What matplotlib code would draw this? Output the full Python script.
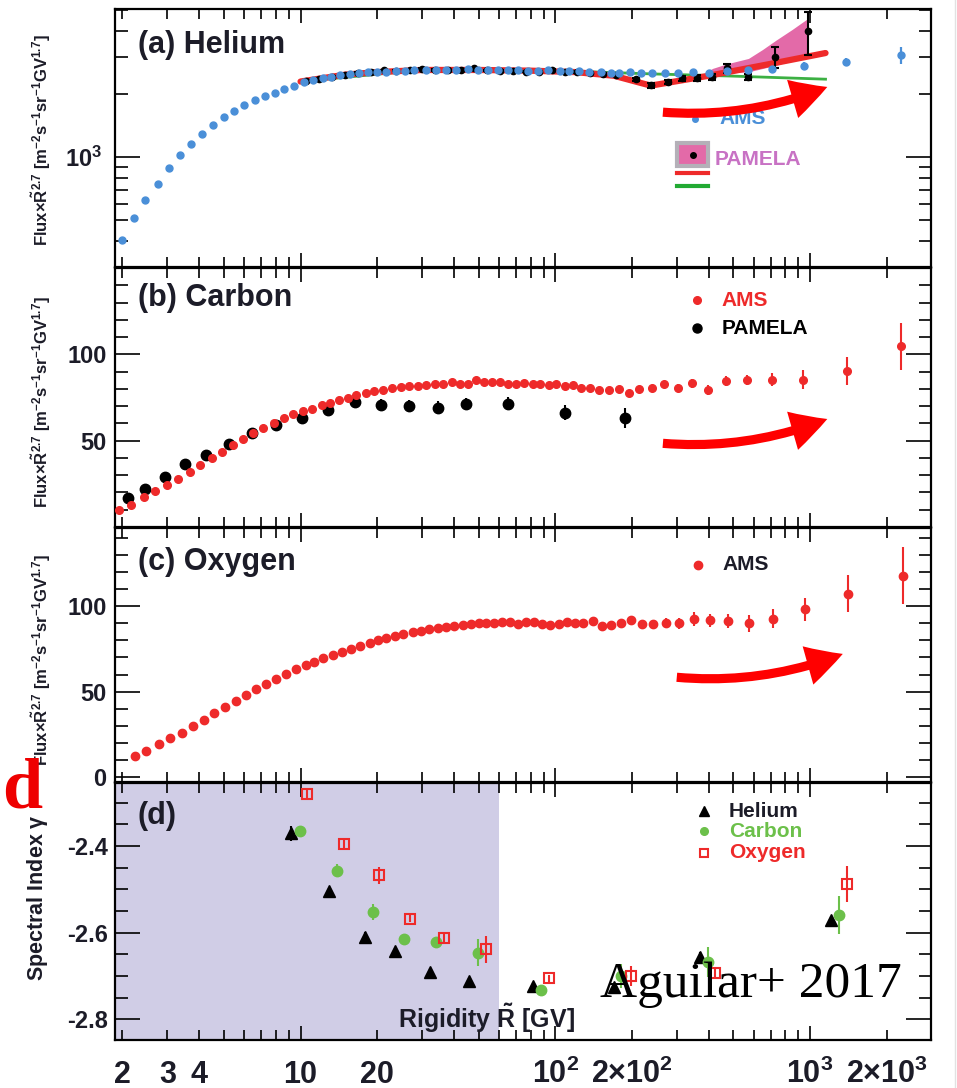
import matplotlib
matplotlib.use("Agg")
import matplotlib.pyplot as plt
import matplotlib.transforms as mtransforms
from matplotlib.patches import FancyArrowPatch, Rectangle
from matplotlib.ticker import FixedLocator, NullFormatter
from matplotlib.lines import Line2D

plt.rcParams.update({
    "font.family": "Liberation Sans",
    "font.weight": "bold",
    "mathtext.fontset": "custom",
    "mathtext.rm": "Liberation Sans:bold",
    "mathtext.it": "Liberation Sans:bold",
    "mathtext.bf": "Liberation Sans:bold",
    "axes.unicode_minus": False,
})

# ---------------- data ----------------
# (a) helium, AMS
he_ams_R = [1.99, 2.21, 2.46, 2.75, 3.05, 3.37, 3.72, 4.09, 4.55, 4.99, 5.50, 6.02, 6.62,
            7.25, 7.91, 8.65, 9.4, 10.3, 11.2, 12.2, 13.2, 14.3, 15.6, 16.9, 18.4, 19.9,
            21.7, 23.6, 25.6, 28.0, 31.1, 34.0, 37.2, 40.8, 45.3, 49.6, 54.3, 59.4, 65.0,
            71.2, 77.9, 85.3, 93.3, 104, 113, 124, 136, 151, 165, 178, 196, 217, 240, 269,
            304, 346, 402, 471, 571, 710, 944, 1387, 2281]
he_ams_F = [405, 513, 622, 747, 883, 1022, 1157, 1291, 1425, 1546, 1661, 1762, 1863,
            1945, 2024, 2107, 2180, 2270, 2327, 2371, 2405, 2449, 2484, 2512, 2530, 2539,
            2548, 2569, 2578, 2608, 2597, 2597, 2597, 2597, 2618, 2597, 2597, 2587, 2587,
            2587, 2569, 2559, 2597, 2569, 2569, 2559, 2539, 2530, 2520, 2520, 2530, 2505,
            2520, 2520, 2520, 2530, 2520, 2569, 2608, 2627, 2722, 2844, 3061]
he_ams_err = [0] * 60 + [100, 135, 280]

# (a) helium, PAMELA
he_pam_R = [10.5, 11.8, 13.3, 14.9, 16.8, 18.9, 21.2, 23.8, 26.8, 30.1, 33.8, 38.0, 42.7,
            48.0, 54.0, 60.7, 68.2, 76.7, 86.2, 96.9, 109, 122, 137, 154, 173, 207, 237,
            276, 313, 359, 414, 471, 571, 729, 982]
he_pam_F = [2300, 2360, 2420, 2470, 2510, 2540, 2590, 2580, 2600, 2640, 2600, 2590, 2610,
            2650, 2590, 2580, 2570, 2550, 2540, 2600, 2550, 2540, 2520, 2500, 2450, 2350,
            2193, 2284, 2371, 2378, 2397, 2644, 2415, 3006, 3966]
he_pam_lo = [20] * 25 + [40, 50, 55, 70, 75, 80, 140, 80, 350, 906]
he_pam_hi = [20] * 25 + [40, 50, 55, 70, 75, 80, 140, 80, 350, 954]

# (a) PAMELA fits
fit_red_R = [10, 15, 20, 30, 50, 80, 120, 170, 237, 400, 700, 1150]
fit_red_F = [2290, 2470, 2540, 2600, 2600, 2580, 2540, 2440, 2190, 2440, 2780, 3130]
fit_green_R = [10, 30, 100, 240, 500, 1150]
fit_green_F = [2290, 2600, 2580, 2490, 2430, 2350]
band_R = [380, 414, 471, 573, 650, 735, 850, 982]
band_lo = [2440, 2484, 2510, 2548, 2640, 2740, 2880, 3060]
band_hi = [2480, 2644, 2780, 2950, 3250, 3605, 4050, 4580]

# (b) carbon
c_ams_R = [1.94, 2.17, 2.42, 2.68, 2.99, 3.31, 3.68, 4.04, 4.48, 4.93, 5.43, 5.95, 6.51,
           7.12, 7.84, 8.58, 9.3, 10.2, 11.1, 12.1, 13.1, 14.1, 15.3, 16.5, 18.1, 19.5,
           21.0, 22.8, 24.7, 26.7, 28.8, 31.1, 33.7, 36.4, 39.2, 42.3, 45.6, 48.9, 52.7,
           56.2, 60.7, 65.5, 70.2, 75.5, 81.5, 87.1, 94.1, 101, 109, 117, 126, 137, 149,
           162, 178, 195, 213, 239, 268, 303, 344, 397, 467, 568, 711, 939, 1396, 2280]
c_ams_F = [9.8, 13.0, 17.2, 20.9, 24.5, 28.0, 31.8, 35.8, 39.8, 43.7, 47.7, 51.0, 54.6,
           57.5, 60.5, 63.2, 65.3, 67.2, 68.6, 70.7, 72.0, 73.4, 74.9, 76.3, 77.4, 78.6,
           79.5, 80.5, 81.2, 81.4, 81.8, 82.2, 82.8, 82.9, 83.7, 82.9, 82.9, 84.9, 84.1,
           83.9, 83.7, 82.8, 82.9, 83.3, 82.6, 82.6, 82.2, 82.6, 81.6, 82.2, 80.6, 80.6,
           79.1, 79.1, 79.7, 77.8, 79.7, 80.6, 82.6, 80.6, 83.3, 79.3, 84.5, 85.1, 85.4,
           85.2, 90.2, 104.8]
c_ams_err = [0.6] * 16 + [0.8] * 32 + [1.3] * 9 + [1.5, 1.8, 2.0, 2.7, 2.9, 2.9, 3.0,
                                                   3.8, 5.5, 8.2, 13.6]
c_pam_R = [2.10, 2.46, 2.93, 3.53, 4.27, 5.24, 6.44, 8.03, 10.1, 12.8, 16.3, 20.7, 26.7,
           34.5, 44.7, 65.0, 109, 188]
c_pam_F = [16.9, 22.2, 28.9, 36.6, 41.8, 48.3, 54.4, 59.2, 62.9, 68.0, 72.4, 70.7, 70.1,
           69.1, 71.4, 71.4, 66.3, 63.0]
c_pam_err = [1.0, 1.0, 1.0, 1.2, 1.2, 1.5, 1.5, 1.8, 2.0, 2.2, 3.0, 3.2, 3.2, 3.6, 3.6,
             3.8, 4.2, 5.8]

# (c) oxygen
o_ams_R = [2.23, 2.48, 2.78, 3.08, 3.41, 3.78, 4.17, 4.59, 5.05, 5.56, 6.09, 6.70, 7.33,
           7.98, 8.73, 9.56, 10.5, 11.3, 12.3, 13.4, 14.6, 15.8, 17.1, 18.7, 20.1, 21.7,
           23.4, 25.2, 27.6, 29.7, 32.0, 34.5, 37.2, 40.2, 43.3, 46.7, 50.4, 53.5, 57.6,
           61.8, 66.4, 71.2, 76.7, 82.2, 88.4, 95.3, 103, 111, 120, 129, 140, 152, 165,
           181, 199, 219, 242, 273, 307, 351, 405, 476, 577, 716, 953, 1413, 2311]
o_ams_F = [12.1, 15.4, 19.1, 22.5, 26.0, 30.1, 33.5, 37.4, 41.0, 44.7, 48.2, 51.6, 54.3,
           57.4, 60.5, 63.0, 65.3, 67.4, 69.8, 71.7, 73.2, 75.1, 76.7, 78.6, 80.2, 81.5,
           82.8, 83.8, 84.8, 85.7, 86.7, 87.5, 87.9, 88.3, 89.0, 89.4, 90.2, 90.2, 90.0,
           90.6, 90.6, 89.6, 90.6, 90.9, 89.6, 89.2, 89.6, 90.6, 90.2, 90.0, 91.5, 88.6,
           89.0, 90.0, 91.9, 89.4, 89.4, 90.0, 90.0, 92.5, 91.7, 91.2, 90.0, 92.7, 98.3,
           107.5, 117.9]
o_ams_err = [1.0] * 46 + [1.8] * 9 + [2.5, 2.5, 3.0, 3.3, 3.9, 3.9, 4.2, 4.8, 5.6, 6.7,
                                      10.6, 16.7]

# (d) spectral indices
gam_he_R = [9.2, 12.9, 17.9, 23.5, 32.1, 46.0, 81.5, 170, 369, 1205]
gam_he = [-2.371, -2.505, -2.611, -2.643, -2.690, -2.712, -2.723, -2.725, -2.656, -2.572]
gam_he_err = [0.018, 0.008, 0.012, 0.008, 0.008, 0.008, 0.008, 0.008, 0.012, 0.01]
gam_c_R = [9.97, 13.9, 19.2, 25.4, 34.0, 49.8, 88.1, 181, 399, 1303]
gam_c = [-2.365, -2.457, -2.552, -2.615, -2.621, -2.647, -2.733, -2.700, -2.668, -2.559]
gam_c_err = [0.012, 0.015, 0.019, 0.01, 0.01, 0.031, 0.01, 0.027, 0.034, 0.044]
gam_o_R = [10.6, 14.8, 20.4, 27.0, 36.5, 53.5, 94.2, 198, 424, 1396]
gam_o = [-2.280, -2.395, -2.468, -2.568, -2.613, -2.639, -2.706, -2.700, -2.693, -2.488]
gam_o_err = [0.01, 0.01, 0.019, 0.008, 0.01, 0.031, 0.008, 0.023, 0.01, 0.041]
shade_upto = 60

x_major = [10, 100, 1000]
x_minor = [2, 3, 4, 5, 6, 7, 8, 9, 20, 30, 40, 50, 60, 70, 80, 90,
           200, 300, 400, 500, 600, 700, 800, 900, 2000]
x_lab_vals = [2, 3, 4, 10, 20, 100, 200, 1000, 2000]
x_lab_txt = ['2', '3', '4', '10', '20', r'$10^{2}$', r'$2{\times}10^{2}$',
             r'$10^{3}$', r'$2{\times}10^{3}$']

BLUE = '#4a8fd8'
RED = '#ee2a2a'
GREEN = '#6cc04a'
INK = '#1c1c28'

# ---------------- figure ----------------
fig = plt.figure(figsize=(9.57, 10.88), dpi=100)
L, W = 0.1202, 0.8527
ax_a = fig.add_axes([L, 0.7546, W, 0.2371])
ax_b = fig.add_axes([L, 0.5156, W, 0.2381])
ax_c = fig.add_axes([L, 0.2813, W, 0.2335])
ax_d = fig.add_axes([L, 0.0441, W, 0.2362])


def style(ax, ypad):
    ax.set_xscale('log')
    ax.set_xlim(1.87, 2985)
    ax.xaxis.set_major_locator(FixedLocator(x_major))
    ax.xaxis.set_minor_locator(FixedLocator(x_minor))
    ax.xaxis.set_major_formatter(NullFormatter())
    ax.xaxis.set_minor_formatter(NullFormatter())
    ax.tick_params(which='both', direction='in', top=True, right=True,
                   color='black', width=1.2, labelcolor=INK)
    ax.tick_params(axis='x', which='major', length=10)
    ax.tick_params(axis='x', which='minor', length=7)
    ax.tick_params(axis='y', which='major', length=18, labelsize=17, pad=ypad)
    ax.tick_params(axis='y', which='minor', length=9)
    for s in ax.spines.values():
        s.set_linewidth(1.6)


def arrow(ax, p0, p1):
    ax.add_patch(FancyArrowPatch(p0, p1, transform=ax.transAxes,
                                 arrowstyle='simple,head_length=1.2,head_width=1.3,tail_width=0.3',
                                 connectionstyle='arc3,rad=0.12', mutation_scale=22,
                                 color='#ff0000', lw=0, zorder=10))


def key(ax, x, y, text, tcolor, **mk):
    ax.plot([x], [y], transform=ax.transAxes, linestyle='none', clip_on=False, **mk)
    ax.text(x + 0.03, y, text, transform=ax.transAxes, color=tcolor, fontsize=15,
            va='center', ha='left')


# (a) Helium
style(ax_a, 9)
ax_a.set_yscale('log')
ax_a.set_ylim(300, 5070)
ax_a.yaxis.set_major_locator(FixedLocator([1000]))
ax_a.yaxis.set_minor_locator(FixedLocator([400, 500, 600, 700, 800, 900, 2000, 3000, 4000, 5000]))
ax_a.yaxis.set_major_formatter(plt.FixedFormatter([r'$10^{3}$']))
ax_a.yaxis.set_minor_formatter(NullFormatter())
ax_a.plot(fit_green_R, fit_green_F, color='#3cb043', lw=2, zorder=2)
ax_a.fill_between(band_R, band_lo, band_hi, color='#e36aa8', lw=0, zorder=2.5)
ax_a.plot(fit_red_R, fit_red_F, color=RED, lw=4.5, zorder=3, solid_capstyle='round')
ax_a.errorbar(he_pam_R, he_pam_F, yerr=[he_pam_lo, he_pam_hi], fmt='o', color='black',
              ms=4.5, elinewidth=1.5, capsize=3, capthick=1.5, zorder=4)
ax_a.errorbar(he_ams_R, he_ams_F, yerr=he_ams_err, fmt='o', color=BLUE, ms=5,
              elinewidth=1.6, capsize=0, zorder=5)
ax_a.text(0.028, 0.86, '(a) Helium', transform=ax_a.transAxes, fontsize=22,
          color=INK, va='center')
key(ax_a, 0.711, 0.575, 'AMS', BLUE, marker='o', color=BLUE, ms=4)
ax_a.add_patch(Rectangle((0.689, 0.391), 0.038, 0.09, transform=ax_a.transAxes,
                         facecolor='#e36aa8', edgecolor='#b4b0b8', lw=3, zorder=6))
ax_a.plot([0.708], [0.436], 'o', color='black', ms=4, transform=ax_a.transAxes, zorder=7)
ax_a.text(0.735, 0.415, 'PAMELA', transform=ax_a.transAxes, color='#c872c4',
          fontsize=15, va='center')
ax_a.plot([0.689, 0.727], [0.364, 0.364], color=RED, lw=3, transform=ax_a.transAxes)
ax_a.plot([0.689, 0.727], [0.314, 0.314], color='#22aa33', lw=3, transform=ax_a.transAxes)
arrow(ax_a, (0.668, 0.601), (0.876, 0.702))

# (b) Carbon
style(ax_b, 6)
ax_b.set_ylim(0, 150)
ax_b.set_yticks([50, 100])
ax_b.yaxis.set_minor_locator(FixedLocator([10, 20, 30, 40, 60, 70, 80, 90, 110, 120, 130, 140]))
ax_b.errorbar(c_pam_R, c_pam_F, yerr=c_pam_err, fmt='o', color='black', ms=7.5,
              elinewidth=1.5, capsize=0, zorder=3)
ax_b.errorbar(c_ams_R, c_ams_F, yerr=c_ams_err, fmt='o', color=RED, ms=5.5,
              elinewidth=1.5, capsize=0, zorder=4)
ax_b.text(0.028, 0.884, '(b) Carbon', transform=ax_b.transAxes, fontsize=22,
          color=INK, va='center')
key(ax_b, 0.713, 0.876, 'AMS', RED, marker='o', color=RED, ms=5.5)
key(ax_b, 0.713, 0.768, 'PAMELA', 'black', marker='o', color='black', ms=6.5)
arrow(ax_b, (0.668, 0.324), (0.876, 0.421))

# (c) Oxygen
style(ax_c, 6)
ax_c.set_ylim(-3, 146)
ax_c.set_yticks([0, 50, 100])
ax_c.yaxis.set_minor_locator(FixedLocator([10, 20, 30, 40, 60, 70, 80, 90, 110, 120, 130, 140]))
ax_c.errorbar(o_ams_R, o_ams_F, yerr=o_ams_err, fmt='o', color=RED, ms=6,
              elinewidth=1.5, capsize=0, zorder=4)
ax_c.text(0.028, 0.866, '(c) Oxygen', transform=ax_c.transAxes, fontsize=22,
          color=INK, va='center')
key(ax_c, 0.714, 0.854, 'AMS', INK, marker='o', color=RED, ms=6)
arrow(ax_c, (0.685, 0.413), (0.895, 0.508))

# (d) Spectral index
style(ax_d, 5)
ax_d.set_ylim(-2.848, -2.255)
ax_d.set_yticks([-2.8, -2.6, -2.4], ['-2.8', '-2.6', '-2.4'])
ax_d.yaxis.set_minor_locator(FixedLocator([-2.75, -2.7, -2.65, -2.55, -2.5, -2.45, -2.35, -2.3]))
ax_d.axvspan(1.87, shade_upto, color='#d0cde6', lw=0, zorder=0)
ax_d.errorbar(gam_he_R, gam_he, yerr=gam_he_err, fmt='^', color='black', ms=8,
              elinewidth=1.5, capsize=0, zorder=3)
ax_d.errorbar(gam_c_R, gam_c, yerr=gam_c_err, fmt='o', color=GREEN, ms=7.5,
              elinewidth=1.5, capsize=0, zorder=4)
ax_d.errorbar(gam_o_R, gam_o, yerr=gam_o_err, fmt='s', color='#ee2a2a', mfc='none',
              mec='#ee2a2a', mew=1.5, ms=7, elinewidth=1.5, capsize=0, zorder=5)
ax_d.text(0.028, 0.871, '(d)', transform=ax_d.transAxes, fontsize=22, color=INK,
          va='center')
key(ax_d, 0.722, 0.891, 'Helium', INK, marker='^', color='black', ms=6.5)
key(ax_d, 0.722, 0.813, 'Carbon', GREEN, marker='o', color=GREEN, ms=5.5)
key(ax_d, 0.722, 0.728, 'Oxygen', '#ee2a2a', marker='s', mfc='none', mec='#ee2a2a',
    mew=1.5, ms=6)
ax_d.text(0.564, 0.086, r'Rigidity $\tilde{R}$ [GV]', transform=ax_d.transAxes,
          fontsize=18, color=INK, ha='right', va='center')

# bottom tick labels, baseline aligned
trans = mtransforms.blended_transform_factory(ax_d.transData, ax_d.transAxes)
for v, t in zip(x_lab_vals, x_lab_txt):
    ax_d.text(v, -0.167, t, transform=trans, fontsize=22, color=INK, ha='center',
              va='baseline', clip_on=False)

# y labels
flux_lab = r'Flux$\times\tilde{R}^{2.7}$ [m$^{-2}$s$^{-1}$sr$^{-1}$GV$^{1.7}$]'
for yc in (140, 402, 660):
    fig.text(41 / 957, 1 - yc / 1088, flux_lab, rotation=90, ha='center', va='center',
             fontsize=12, color=INK)
fig.text(38 / 957, 1 - 898 / 1088, r'Spectral Index $\gamma$', rotation=90, ha='center',
         va='center', fontsize=15.5, color=INK)

# overlays
fig.text(0.002, 1 - 808 / 1088, 'd', family='Liberation Serif', weight='bold',
         fontsize=52, color='#ee0000', va='baseline', ha='left')
fig.text(600 / 957, 1 - 997 / 1088, 'Aguilar+ 2017', family='Liberation Serif',
         weight='normal', fontsize=37, color='black', va='baseline', ha='left', zorder=20)
fig.add_artist(Line2D([0.9975, 0.9975], [0, 1], color='#e2e2e2', lw=1))

fig.savefig('out.png', dpi=100)
